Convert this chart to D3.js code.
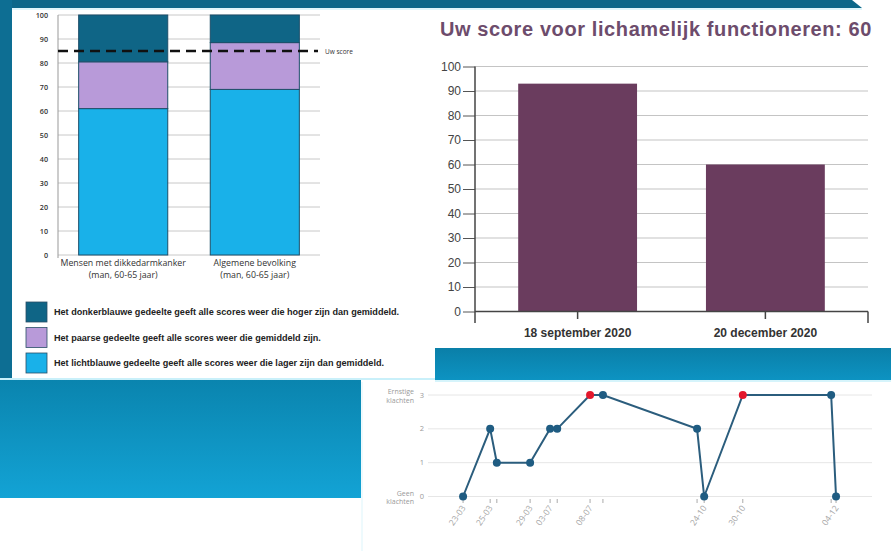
<!DOCTYPE html>
<html><head><meta charset="utf-8">
<script src="https://cdn.jsdelivr.net/npm/d3@7"></script>
<style>body{margin:0;background:#fff;}svg{display:block;}</style>
</head><body>
<script>
// ---------- DATA ----------
const groupLines = [["Mensen met dikkedarmkanker","(man, 60-65 jaar)"],["Algemene bevolking","(man, 60-65 jaar)"]];
const lowerVals = [61, 69];
const averageVals = [19.5, 19.5];
const higherVals = [19.5, 11.5];
const uwScore = 85;
const leftTicks = [0,10,20,30,40,50,60,70,80,90,100];
const legendTexts = [
  "Het donkerblauwe gedeelte geeft alle scores weer die hoger zijn dan gemiddeld.",
  "Het paarse gedeelte geeft alle scores weer die gemiddeld zijn.",
  "Het lichtblauwe gedeelte geeft alle scores weer die lager zijn dan gemiddeld."
];

const scoreTitle = "Uw score voor lichamelijk functioneren: 60";
const scoreDates = ["18 september 2020", "20 december 2020"];
const scoreValues = [93, 60];
const scoreTicks = [0,10,20,30,40,50,60,70,80,90,100];

const linePos = [7.9, 14.0, 15.5, 23.0, 27.5, 29.1, 36.5, 39.4, 60.6, 62.2, 70.9, 90.8, 91.9];
const lineVals = [0, 2, 1, 1, 2, 2, 3, 3, 2, 0, 3, 3, 0];
const lineRed = [false,false,false,false,false,false,true,false,false,false,true,false,false];
const lineLabels = ["23-03","25-03","","29-03","03-07","","08-07","","","24-10","30-10","","04-12"];
const lineLevels = [0,1,2,3];

// ---------- SVG ----------
const W = 891, H = 551;
const svg = d3.select("body").append("svg").attr("width", W).attr("height", H);
const defs = svg.append("defs");
const g1 = defs.append("linearGradient").attr("id","blockGrad").attr("x1",0).attr("y1",0).attr("x2",0).attr("y2",1);
g1.append("stop").attr("offset","0%").attr("stop-color","#0a84ae");
g1.append("stop").attr("offset","100%").attr("stop-color","#13a3d5");
const g2 = defs.append("linearGradient").attr("id","bandGrad").attr("x1",0).attr("y1",0).attr("x2",0).attr("y2",1);
g2.append("stop").attr("offset","0%").attr("stop-color","#0a7fa8");
g2.append("stop").attr("offset","100%").attr("stop-color","#0d93c2");

// frame decorations
svg.append("rect").attr("x",0).attr("y",0).attr("width",W).attr("height",H).attr("fill","#fff");
svg.append("path").attr("d","M0,0 L852,0 L862,8 L0,8 Z").attr("fill","#0c6789");
svg.append("rect").attr("x",0).attr("y",8).attr("width",862).attr("height",2).attr("fill","#dff6fb");
svg.append("rect").attr("x",0).attr("y",0).attr("width",12).attr("height",381).attr("fill","#0d6e93");
svg.append("rect").attr("x",0).attr("y",379).attr("width",361).attr("height",119).attr("fill","url(#blockGrad)");
svg.append("rect").attr("x",0).attr("y",378).attr("width",435).attr("height",2).attr("fill","#c9f0fa");
svg.append("rect").attr("x",435).attr("y",348).attr("width",456).attr("height",32).attr("fill","url(#bandGrad)");
svg.append("rect").attr("x",435).attr("y",380).attr("width",456).attr("height",2).attr("fill","#d6f4fb");
svg.append("rect").attr("x",361).attr("y",382).attr("width",2).attr("height",169).attr("fill","#eefafd");

// ---------- LEFT STACKED CHART ----------
const yL = d3.scaleLinear().domain([0,100]).range([255,15]);
const xL = d3.scaleBand().domain(d3.range(groupLines.length)).range([58,320]).paddingInner(0.323).paddingOuter(0.157);
const left = svg.append("g");
left.selectAll(".gl").data(leftTicks).join("line")
  .attr("x1",58).attr("x2",320).attr("y1",d=>yL(d)).attr("y2",d=>yL(d))
  .attr("stroke","#c8c8c8").attr("stroke-width",1);
left.append("line").attr("x1",58).attr("x2",58).attr("y1",yL(100)).attr("y2",yL(0)+3).attr("stroke","#999");
left.selectAll(".tl").data(leftTicks).join("text")
  .attr("x",48).attr("y",d=>yL(d)+2.5).attr("text-anchor","end")
  .attr("font-family","Open Sans, sans-serif").attr("font-size",7.2).attr("font-weight",600).attr("fill","#333").text(d=>d);

const stackRows = groupLines.map((g,i)=>({i, lower:lowerVals[i], avg:averageVals[i], high:higherVals[i]}));
const stack = d3.stack().keys(["lower","avg","high"])(stackRows);
const segColors = {lower:"#19b1e9", avg:"#b89ad9", high:"#0f6586"};
left.selectAll(".layer").data(stack).join("g").attr("fill",d=>segColors[d.key])
  .selectAll("rect").data(d=>d).join("rect")
  .attr("x",d=>xL(d.data.i)).attr("width",xL.bandwidth())
  .attr("y",d=>yL(d[1])).attr("height",d=>yL(d[0])-yL(d[1]))
  .attr("stroke","#1d4f6a").attr("stroke-width",1);

left.append("line").attr("x1",58).attr("x2",318).attr("y1",yL(uwScore)).attr("y2",yL(uwScore))
  .attr("stroke","#111").attr("stroke-width",2.5).attr("stroke-dasharray","10,6");
left.append("text").attr("x",325).attr("y",yL(uwScore)+2.5).attr("font-family","Open Sans, sans-serif")
  .attr("font-size",6.5).attr("fill","#333").text("Uw score");

groupLines.forEach((lines,i)=>{
  lines.forEach((t,j)=>{
    left.append("text").attr("x",xL(i)+xL.bandwidth()/2).attr("y",266+j*12).attr("text-anchor","middle")
      .attr("font-family","Open Sans, sans-serif").attr("font-size",8.8).attr("fill","#333").text(t);
  });
});

const legColors = [segColors.high, segColors.avg, segColors.lower];
legendTexts.forEach((t,i)=>{
  const y = 302 + i*25.5;
  left.append("rect").attr("x",26).attr("y",y).attr("width",21).attr("height",20)
    .attr("fill",legColors[i]).attr("stroke","#2a4f66").attr("stroke-width",0.8);
  left.append("text").attr("x",54).attr("y",y+13).attr("font-family","Liberation Sans, Arial, sans-serif")
    .attr("font-size",9.1).attr("font-weight","bold").attr("fill","#222").text(t);
});

// ---------- RIGHT BAR CHART ----------
const right = svg.append("g");
right.append("text").attr("x",440).attr("y",36).attr("font-family","Liberation Sans, Arial, sans-serif")
  .attr("font-size",20).attr("font-weight","bold").attr("letter-spacing",0.6).attr("fill","#6d4c6c").text(scoreTitle);
const yR = d3.scaleLinear().domain([0,100]).range([311.5,66.5]);
const xR = d3.scaleBand().domain(scoreDates).range([475,868]).paddingInner(0.367).paddingOuter(0.23);
right.selectAll(".gr").data(scoreTicks.filter(d=>d>0)).join("line")
  .attr("x1",475).attr("x2",868).attr("y1",d=>yR(d)).attr("y2",d=>yR(d))
  .attr("stroke","#c4c4c4").attr("stroke-width",1.2);
right.selectAll(".bar").data(scoreValues).join("rect")
  .attr("x",(d,i)=>xR(scoreDates[i])).attr("width",xR.bandwidth())
  .attr("y",d=>yR(d)).attr("height",d=>yR(0)-yR(d)).attr("fill","#6a3c5e");
const yAxisR = d3.axisLeft(yR).tickValues(scoreTicks).tickSize(12).tickPadding(2);
const ay = right.append("g").attr("transform","translate(475,0)").call(yAxisR);
ay.select(".domain").remove();
ay.selectAll("line").attr("stroke","#555");
ay.selectAll("text").attr("font-family","Liberation Sans, Arial, sans-serif").attr("font-size",12).attr("fill","#444");
right.append("line").attr("x1",475).attr("x2",475).attr("y1",yR(100)).attr("y2",323).attr("stroke","#444").attr("stroke-width",1.5);
right.append("line").attr("x1",475).attr("x2",868).attr("y1",yR(0)).attr("y2",yR(0)).attr("stroke","#444").attr("stroke-width",1.5);
right.append("line").attr("x1",868).attr("x2",868).attr("y1",yR(0)).attr("y2",323).attr("stroke","#444").attr("stroke-width",1.5);
right.selectAll(".ct").data(scoreDates).join("line")
  .attr("x1",d=>xR(d)+xR.bandwidth()/2).attr("x2",d=>xR(d)+xR.bandwidth()/2)
  .attr("y1",yR(0)).attr("y2",319).attr("stroke","#444").attr("stroke-width",1.5);
right.selectAll(".cl").data(scoreDates).join("text")
  .attr("x",d=>xR(d)+xR.bandwidth()/2).attr("y",337).attr("text-anchor","middle")
  .attr("font-family","Liberation Sans, Arial, sans-serif").attr("font-size",12).attr("font-weight","bold")
  .attr("fill","#333").text(d=>d);

// ---------- LINE CHART ----------
const lc = svg.append("g");
const xC = d3.scaleLinear().domain([0,100]).range([428,872]);
const yC = d3.scaleLinear().domain([0,3]).range([496.5,395]);
lc.selectAll(".gc").data(lineLevels).join("line")
  .attr("x1",428).attr("x2",872).attr("y1",d=>yC(d)).attr("y2",d=>yC(d))
  .attr("stroke","#e6e6e6").attr("stroke-width",1);
lc.selectAll(".yc").data(lineLevels).join("text")
  .attr("x",424).attr("y",d=>yC(d)+2.5).attr("text-anchor","end")
  .attr("font-family","Open Sans, sans-serif").attr("font-size",7.5).attr("fill","#999").text(d=>d);
[["Ernstige","klachten",3],["Geen","klachten",0]].forEach(([a,b,v])=>{
  lc.append("text").attr("x",414).attr("y",yC(v)-1).attr("text-anchor","end")
    .attr("font-family","Open Sans, sans-serif").attr("font-size",7).attr("fill","#999").text(a);
  lc.append("text").attr("x",414).attr("y",yC(v)+7.5).attr("text-anchor","end")
    .attr("font-family","Open Sans, sans-serif").attr("font-size",7).attr("fill","#999").text(b);
});
lc.selectAll(".xt").data(linePos).join("line")
  .attr("x1",d=>xC(d)).attr("x2",d=>xC(d)).attr("y1",499).attr("y2",503).attr("stroke","#aaa");
lc.selectAll(".xl").data(linePos).join("text")
  .attr("transform",d=>`translate(${xC(d)+3},${508}) rotate(-55)`)
  .attr("text-anchor","end").attr("font-family","Open Sans, sans-serif").attr("font-size",8.5)
  .attr("fill","#a5a5a5").text((d,i)=>lineLabels[i]);
const pts = linePos.map((p,i)=>({x:p, y:lineVals[i], red:lineRed[i]}));
lc.append("path").datum(pts)
  .attr("d", d3.line().x(d=>xC(d.x)).y(d=>yC(d.y)))
  .attr("fill","none").attr("stroke","#2b5d7d").attr("stroke-width",2);
lc.selectAll(".pt").data(pts).join("circle")
  .attr("cx",d=>xC(d.x)).attr("cy",d=>yC(d.y)).attr("r",4)
  .attr("fill",d=>d.red?"#e3172c":"#1f5c82");
</script>
</body></html>
